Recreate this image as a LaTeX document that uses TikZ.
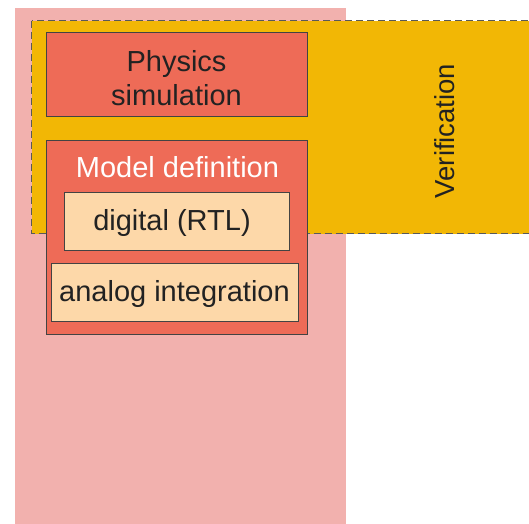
\documentclass[tikz,border=0pt]{standalone}
\usepackage{fontspec}
\setmainfont{Liberation Sans}
\definecolor{bgpink}{HTML}{F2B1AE}
\definecolor{verifyel}{HTML}{F2B705}
\definecolor{stagered}{HTML}{EE6B57}
\definecolor{partcream}{HTML}{FDD8A9}
\definecolor{inkdark}{HTML}{222222}
\begin{document}
\begin{tikzpicture}[x=1pt,y=-1pt,
  boxbase/.style={rectangle, draw=inkdark!85, line width=0.9pt, inner sep=0pt, outer sep=0pt,
    text=inkdark, align=center, font=\fontsize{29}{34}\selectfont},
  stagebox/.style={boxbase, fill=stagered},
  partbox/.style={boxbase, fill=partcream},
  lbl/.style={inner sep=0pt, outer sep=0pt, align=center, font=\fontsize{29}{34}\selectfont}
]
\clip (0,0) rectangle (529,523);

% background lane
\fill[bgpink] (14.5,8) rectangle (346,530);

% verification region (runs past the right edge)
\filldraw[fill=verifyel, draw=inkdark!75, line width=0.8pt, dash pattern=on 7pt off 4pt]
  (31.5,20.5) rectangle (545,233.5);
\node[lbl, text=inkdark, rotate=90, font=\fontsize{27.5}{33}\selectfont] (verif) at (445,131) {Verification};

% stages
\node[stagebox, minimum width=261pt, minimum height=84pt] (phys) at (176.5,74) {};
\node[lbl, text=inkdark] (physlabel) at (176.5,78) {Physics\\simulation};
\node[stagebox, minimum width=261pt, minimum height=194pt] (model) at (176.5,237) {};
\node[lbl, text=white] (modeltitle) at (177.5,167) {Model definition};

% parts of the model definition
\node[partbox, minimum width=225pt, minimum height=58pt] (digital) at (176.5,221) {};
\node[lbl, text=inkdark] (digitallabel) at (172,223) {digital (RTL)};
\node[partbox, minimum width=247pt, minimum height=58pt] (analog) at (174.5,292) {};
\node[lbl, text=inkdark] (analoglabel) at (174.5,294) {analog integration};
\end{tikzpicture}
\end{document}
